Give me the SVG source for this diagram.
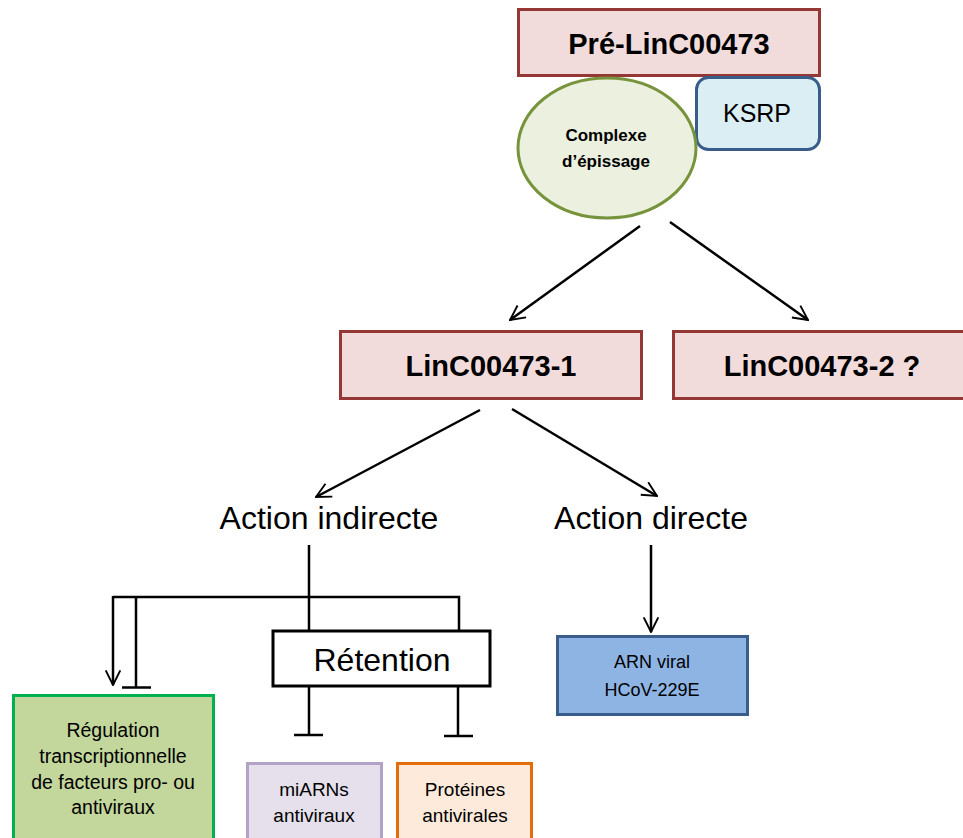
<svg xmlns="http://www.w3.org/2000/svg" width="963" height="838" viewBox="0 0 963 838">
<defs>
<marker id="arr" viewBox="0 0 12 12" refX="11" refY="6" markerWidth="7" markerHeight="7" markerUnits="strokeWidth" orient="auto">
<path d="M1,1 L11,6 L1,11" fill="none" stroke="#000" stroke-width="1.3"/>
</marker>
<style>
.t{font-family:"Liberation Sans",Arial,sans-serif;text-anchor:middle;fill:#000}
.b{font-weight:bold}
.ln{stroke:#000;stroke-width:2.5;fill:none}
.red{fill:#f2dcdb;stroke:#953735;stroke-width:3}
</style>
</defs>
<rect width="963" height="838" fill="#fff"/>
<g id="pre">
<rect class="red" x="518.5" y="9.5" width="301" height="66"/>
<text class="t b" x="669" y="54" font-size="29">Pré-LinC00473</text>
</g>
<g id="ksrp">
<rect x="696.5" y="77.5" width="123" height="72" rx="12" fill="#dbeef4" stroke="#385d8a" stroke-width="3"/>
<text class="t" x="757" y="122" font-size="25">KSRP</text>
</g>
<g id="complexe">
<ellipse cx="607" cy="148" rx="89" ry="70" fill="#ebf1de" stroke="#77933c" stroke-width="3"/>
<text class="t b" x="606" y="141" font-size="17">Complexe</text>
<text class="t b" x="606" y="167" font-size="17">d’épissage</text>
</g>
<g id="linc1">
<rect class="red" x="340.5" y="331.5" width="301" height="67"/>
<text class="t b" x="491" y="376" font-size="29">LinC00473-1</text>
</g>
<g id="linc2">
<rect class="red" x="673.5" y="331.5" width="300" height="67"/>
<text class="t b" x="822" y="376" font-size="29">LinC00473-2 ?</text>
</g>
<g id="indirecte">
<text class="t" x="329" y="529" font-size="32">Action indirecte</text>
</g>
<g id="directe">
<text class="t" x="651" y="529" font-size="32">Action directe</text>
</g>
<g id="retention">
<rect x="273" y="631" width="217" height="55" fill="#fff" stroke="#000" stroke-width="3"/>
<text class="t" x="382" y="671" font-size="32">Rétention</text>
</g>
<g id="arn">
<rect x="557.5" y="636.5" width="190" height="78" fill="#8eb4e3" stroke="#385d8a" stroke-width="3"/>
<text class="t" x="652" y="668" font-size="18">ARN viral</text>
<text class="t" x="652" y="696" font-size="18">HCoV-229E</text>
</g>
<g id="regulation">
<rect x="13.5" y="695.5" width="200" height="150" fill="#c3d69b" stroke="#00b050" stroke-width="3"/>
<text class="t" x="113" y="737" font-size="19.5">Régulation</text>
<text class="t" x="113" y="763" font-size="19.5">transcriptionnelle</text>
<text class="t" x="113" y="789" font-size="19.5">de facteurs pro- ou</text>
<text class="t" x="113" y="814" font-size="19.5">antiviraux</text>
</g>
<g id="miarns">
<rect x="247.5" y="763.5" width="134" height="90" fill="#e5e0ec" stroke="#b3a2c7" stroke-width="3"/>
<text class="t" x="314" y="796" font-size="19">miARNs</text>
<text class="t" x="314" y="822" font-size="19">antiviraux</text>
</g>
<g id="proteines">
<rect x="397.5" y="763.5" width="134" height="90" fill="#fdeada" stroke="#e46c0a" stroke-width="3"/>
<text class="t" x="465" y="796" font-size="19">Protéines</text>
<text class="t" x="465" y="822" font-size="19">antivirales</text>
</g>
<g id="connectors">
<line class="ln" x1="640" y1="226" x2="510" y2="320" marker-end="url(#arr)"/>
<line class="ln" x1="670" y1="222" x2="808" y2="320" marker-end="url(#arr)"/>
<line class="ln" x1="480" y1="410" x2="316" y2="497" marker-end="url(#arr)"/>
<line class="ln" x1="512" y1="409" x2="657" y2="496" marker-end="url(#arr)"/>
<line class="ln" x1="651" y1="545" x2="651" y2="632" marker-end="url(#arr)"/>
<line class="ln" x1="309" y1="545" x2="309" y2="631"/>
<polyline class="ln" points="113,597 459,597 459,631"/>
<line class="ln" x1="113" y1="596" x2="113" y2="685" marker-end="url(#arr)"/>
<line class="ln" x1="136" y1="597" x2="136" y2="687"/>
<line class="ln" x1="122" y1="687.5" x2="151" y2="687.5"/>
<line class="ln" x1="309" y1="686" x2="309" y2="735"/>
<line class="ln" x1="294" y1="735" x2="323" y2="735"/>
<line class="ln" x1="458" y1="686" x2="458" y2="736"/>
<line class="ln" x1="444" y1="736" x2="473" y2="736"/>
</g>
</svg>
